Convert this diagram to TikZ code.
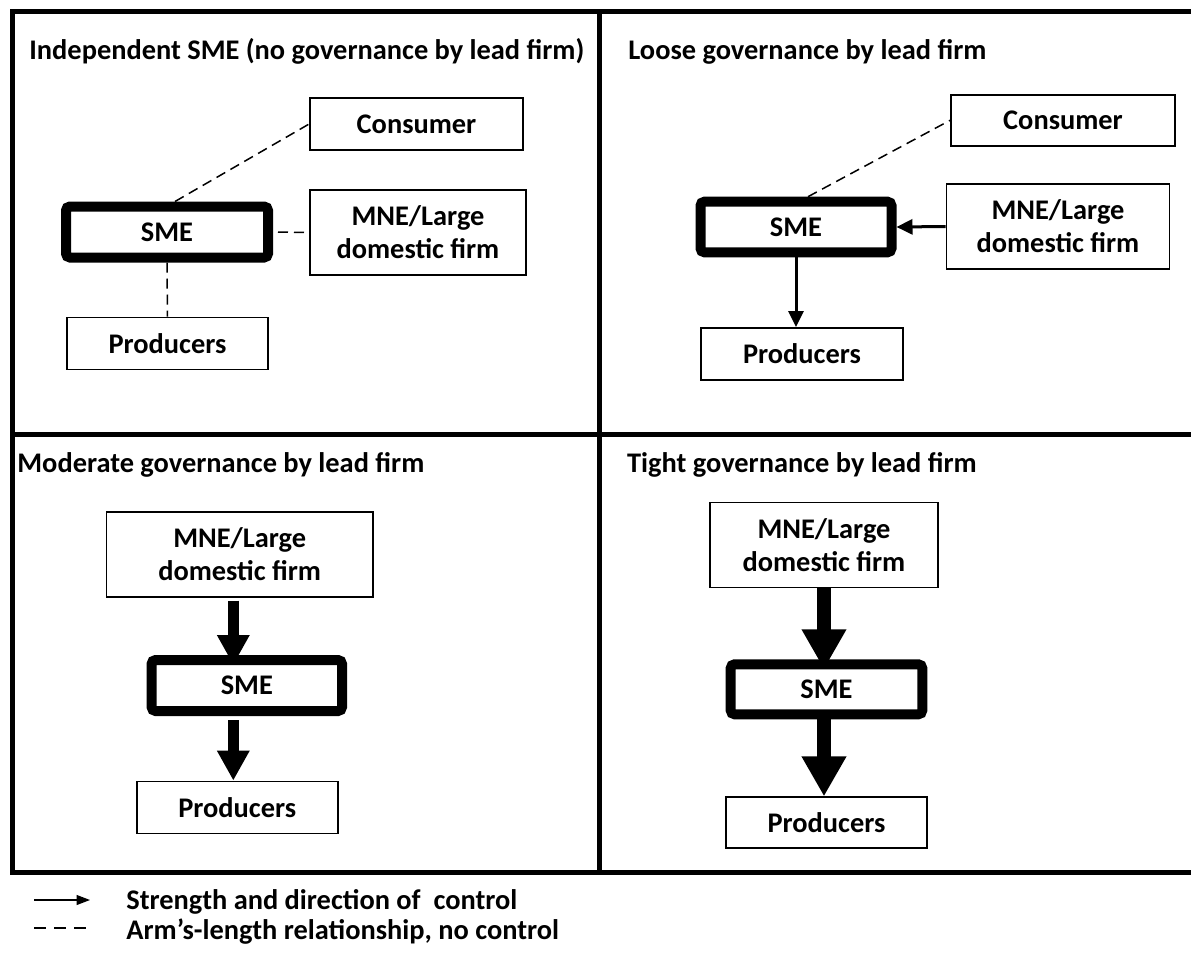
\documentclass[tikz,border=0pt]{standalone}
\usepackage{fontspec}
\setmainfont{Carlito}
\usetikzlibrary{arrows.meta}
\tikzset {>=Stealth}
\tikzset{
  frameline/.style={line width=2.5pt},
  firmbox/.style={draw, line width=0.9pt, inner sep=0pt, align=center,
    font=\fontsize{14.2}{16.6}\selectfont\bfseries},
  smebox/.style={firmbox, line width=5pt, rounded corners=2pt},
  paneltitle/.style={anchor=base west, inner sep=0pt,
    font=\fontsize{14.2}{16.6}\selectfont\bfseries},
  armslength/.style={dash pattern=on 5pt off 3pt, line width=0.75pt},
  control/.style={-{Triangle[length=8pt,width=7.5pt]}, line width=1.5pt},
  moderate/.style={-{Triangle[length=15pt,width=15.3pt]}, line width=5.75pt},
  tight/.style={-{Triangle[length=20pt,width=21pt]}, line width=7pt},
}

\begin{document}
\begin{tikzpicture}[x=0.5pt,y=-0.5pt]
\useasboundingbox (0,0) rectangle (1191,960);

\draw[frameline] (1191,11) -- (12,11) -- (12,872) -- (1191,872);
\draw[frameline] (12,434.5) -- (1191,434.5);
\draw[frameline] (599.5,11) -- (599.5,872);

% independent SME
\node[paneltitle] (t1) at (29,59) {Independent SME (no governance by lead firm)};
\node[firmbox, minimum width=106.5pt, minimum height=26pt] (con1) at (416.5,124) {Consumer};
\node[smebox, minimum width=101pt, minimum height=25.5pt] (sme1) at (167,232) {SME};
\node[firmbox, minimum width=108pt, minimum height=42.5pt] (mne1) at (418,232.5) {MNE/Large\\domestic firm};
\node[firmbox, minimum width=100.5pt, minimum height=26pt] (pro1) at (167.5,343.5) {Producers};
\draw[armslength] ([xshift=4pt]sme1.north) -- (con1.west);
\draw[armslength] ([xshift=2.5pt]sme1.east) -- (mne1.west);
\draw[armslength] (sme1.south) -- (pro1.north);

% loose governance
\node[paneltitle] (t2) at (628,59) {Loose governance by lead firm};
\node[firmbox, minimum width=112pt, minimum height=25.5pt] (con2) at (1063,120.3) {Consumer};
\node[smebox, minimum width=95.5pt, minimum height=25.3pt] (sme2) at (796,227) {SME};
\node[firmbox, minimum width=111.5pt, minimum height=42.5pt] (mne2) at (1058,226.5) {MNE/Large\\domestic firm};
\node[firmbox, minimum width=101pt, minimum height=26pt] (pro2) at (802,354) {Producers};
\draw[armslength] ([xshift=6pt]sme2.north) -- (con2.west);
\draw[control] (mne2.west) -- (sme2.east);
\draw[control] (sme2.south) -- (sme2.south |- pro2.north);

% moderate governance
\node[paneltitle] (t3) at (17,472.5) {Moderate governance by lead firm};
\node[firmbox, minimum width=133.3pt, minimum height=42.5pt] (mne3) at (239.7,554.2) {MNE/Large\\domestic firm};
\node[smebox, minimum width=95.2pt, minimum height=25.5pt] (sme3) at (246.8,685.5) {SME};
\node[firmbox, minimum width=100.5pt, minimum height=26pt] (pro3) at (237.3,807.5) {Producers};
\draw[moderate, shorten >=-5pt, shorten <=1.5pt] ([xshift=-3.2pt]mne3.south) -- ([xshift=-3.2pt]mne3.south |- sme3.north);
\draw[moderate, shorten <=2pt] ([xshift=-3.2pt]mne3.south |- sme3.south) -- ([xshift=-3.2pt]mne3.south |- pro3.north);

% tight governance
\node[paneltitle] (t4) at (626.7,472.5) {Tight governance by lead firm};
\node[firmbox, minimum width=114pt, minimum height=42.5pt] (mne4) at (824,545) {MNE/Large\\domestic firm};
\node[smebox, minimum width=95.8pt, minimum height=25pt] (sme4) at (826.5,689.3) {SME};
\node[firmbox, minimum width=100.8pt, minimum height=25.5pt] (pro4) at (826.5,822.8) {Producers};
\draw[tight, shorten >=-5pt] (mne4.south) -- (mne4.south |- sme4.north);
\draw[tight] (mne4.south |- sme4.south) -- (mne4.south |- pro4.north);

% legend
\coordinate (k1a) at (34,900);
\coordinate (k1b) at (90,900);
\coordinate (k2a) at (34,928);
\coordinate (k2b) at (90,928);
\draw[-{Triangle[length=6.75pt,width=5pt]}, line width=0.6pt] (k1a) -- (k1b);
\draw[dash pattern=on 6pt off 4pt, line width=0.6pt] (k2a) -- (k2b);
\node[paneltitle] (lg1) at (126,909.5) {Strength and direction of\ \ control};
\node[paneltitle] (lg2) at (126,939) {Arm’s-length relationship, no control};

\end{tikzpicture}
\end{document}
